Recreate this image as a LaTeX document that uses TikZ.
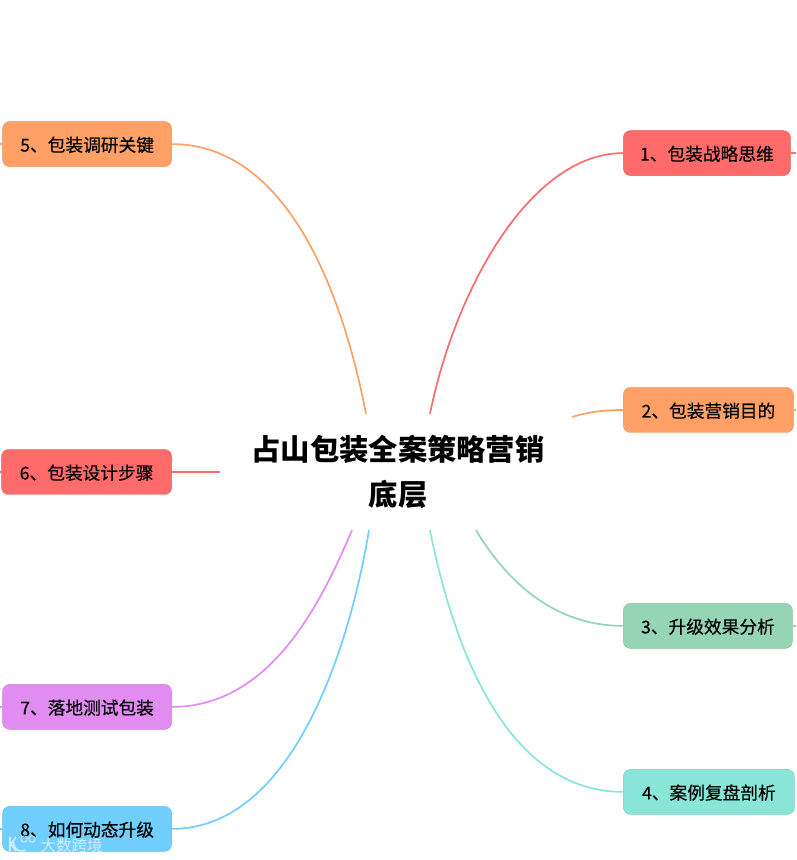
\documentclass[tikz,border=0pt]{standalone}
\usepackage{xcolor}
\usepackage{fontspec}
\setmainfont{Noto Sans CJK SC}
\usetikzlibrary{positioning,calc}
\definecolor{topicred}{HTML}{FF6B6B}
\definecolor{topicorange}{HTML}{FFA066}
\definecolor{topicgreen}{HTML}{95D5B5}
\definecolor{topicteal}{HTML}{88E5D8}
\definecolor{topicpurple}{HTML}{E08CF0}
\definecolor{topicblue}{HTML}{70CFFF}
\newcommand{\hubline}[1]{\raisebox{-2pt}{\hspace{4pt}#1}}

\begin{document}
\begin{tikzpicture}[
    x=1pt, y=1pt,
    hub/.style={rectangle, text width=320pt, align=center, minimum width=352pt, minimum height=116pt, inner sep=0pt, font=\fontsize{29.3}{45}\selectfont\bfseries},
    topic/.style={rectangle, draw=#1!90!black, line width=0.4pt, fill=#1, rounded corners=7pt, minimum width=169pt, minimum height=45pt, text height=17pt, text depth=2pt, inner xsep=16pt, inner ysep=0pt, font=\fontsize{17.7}{20}\selectfont\addfontfeature{FakeBold=0.25}},
    link/.style={draw=#1, line width=1.7pt},
]
\useasboundingbox (0,0) rectangle (796,860);

% Central title
\node[hub] (hub) at (396,388) {\hubline{占山包装全案策略营销}\\\hubline{底层}};

% Right topics
\node[topic=topicred, above right=238pt and 51pt of hub, minimum width=167pt] (t1) {1、包装战略思维};
\node[topic=topicorange, right=51pt of hub, yshift=62pt, minimum width=170pt] (t2) {2、包装营销目的};
\node[topic=topicgreen, below right=73pt and 51pt of hub] (t3) {3、升级效果分析};
\node[topic=topicteal, below right=239pt and 51pt of hub, minimum width=171pt] (t4) {4、案例复盘剖析};

% Left topics
\node[topic=topicorange, above left=247pt and 48pt of hub] (t5) {5、包装调研关键};
\node[topic=topicred, left=48pt of hub, minimum width=170pt] (t6) {6、包装设计步骤};
\node[topic=topicpurple, below left=154pt and 48pt of hub] (t7) {7、落地测试包装};
\node[topic=topicblue, below left=276pt and 48pt of hub] (t8) {8、如何动态升级};

% Free ends at the page edge
\coordinate (e1) at (796,0 |- t1.east);
\coordinate (e2) at (796,0 |- t2.east);
\coordinate (e3) at (796,0 |- t3.east);
\coordinate (e5) at (0,0 |- t5.west);
\coordinate (e6) at (0,0 |- t6.west);
\coordinate (e7) at (0,0 |- t7.west);
\coordinate (e8) at (0,0 |- t8.west);

% Branches
\draw[link=topicred] (t1.west) .. controls +(-93,0) and +(25,124) .. ([xshift=34pt]hub.north);
\draw[link=topicorange] (t2.west) .. controls +(-20,0) and +(16,5) .. ([yshift=55pt]hub.east);
\draw[link=topicgreen] (t3.west) .. controls +(-70,0) and +(30,-50) .. ([xshift=80pt]hub.south);
\draw[link=topicteal] (t4.west) .. controls +(-120,0) and +(22,-110) .. ([xshift=34pt]hub.south);
\draw[link=topicorange] (t5.east) .. controls +(110,0) and +(-26,134) .. ([xshift=-30pt]hub.north);
\draw[link=topicred] (t6.east) -- (hub.west);
\draw[link=topicpurple] (t7.east) .. controls +(100,0) and +(-30,-70) .. ([xshift=-44pt]hub.south);
\draw[link=topicblue] (t8.east) .. controls +(120,0) and +(-20,-120) .. ([xshift=-27pt]hub.south);

% Short stubs
\foreach \n/\c in {1/topicred,2/topicorange,3/topicgreen}
  \draw[link=\c] (t\n.east) -- (e\n);
\foreach \n/\c in {5/topicorange,6/topicred,7/topicpurple,8/topicblue}
  \draw[link=\c] (t\n.west) -- (e\n);

% Watermark
\node[text=white, opacity=0.65, font=\fontsize{15.5}{16}\selectfont] (mark) at (71.5,14) {大数跨境};
\draw[white, opacity=0.65, line width=1.6pt] (10,23) -- (10,9) (16,23) -- (11,16) -- (16,9);
\draw[white, opacity=0.65, line width=1.6pt] (25,10) arc (-60:-190:7.5);
\draw[white, opacity=0.65, line width=0.9pt] (24,21) circle (3.2) (32,21) circle (3.2);

\end{tikzpicture}
\end{document}
